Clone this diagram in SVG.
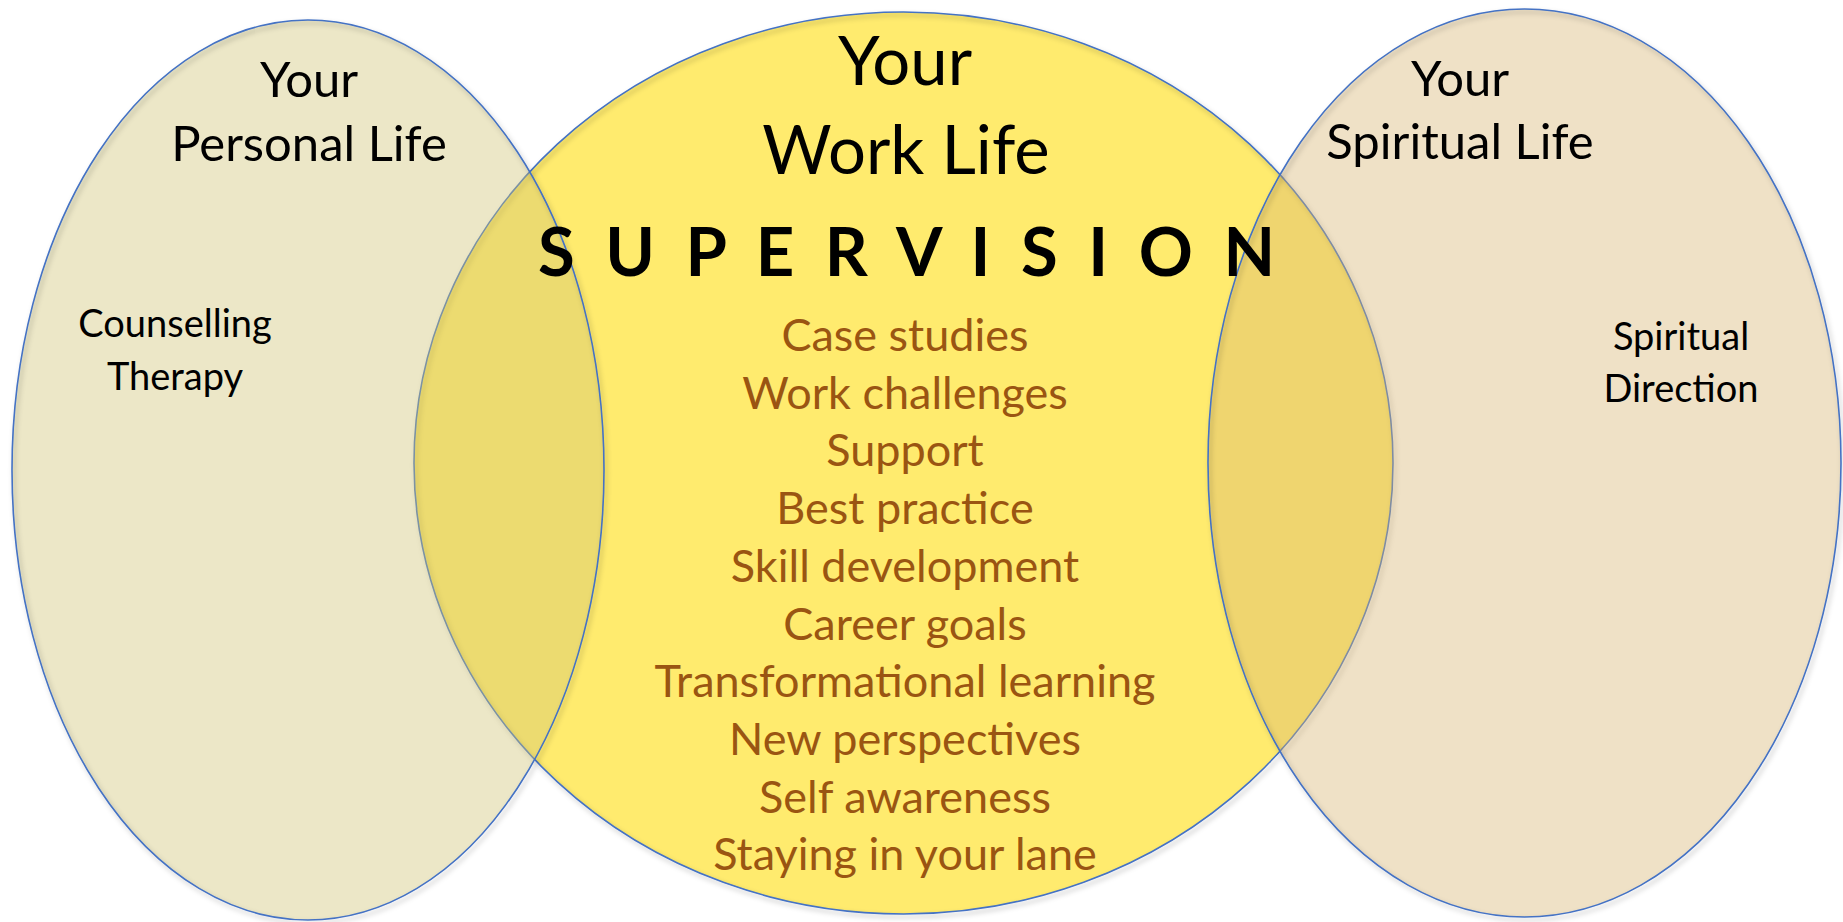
<svg xmlns="http://www.w3.org/2000/svg" width="1843" height="922" viewBox="0 0 1843 922">
  <style>
    .outline { fill: none; stroke: #4472C4; stroke-width: 1.6; }
    .title { font-family: Lato, "Open Sans", "Liberation Sans", sans-serif; fill: #000000; text-anchor: middle; }
    .side { font-size: 49px; }
    .main { font-size: 67px; }
    .label { font-family: Lato, "Open Sans", "Liberation Sans", sans-serif; font-size: 38px; fill: #000000; text-anchor: middle; }
    .item { font-family: Lato, "Open Sans", "Liberation Sans", sans-serif; font-size: 45px; fill: #9A5512; text-anchor: middle; }
    .big { font-family: Lato, "Open Sans", "Liberation Sans", sans-serif; font-size: 67px; font-weight: bold; fill: #000000; }
  </style>
  <defs>
    <filter id="shadow" x="-5%" y="-5%" width="110%" height="110%">
      <feDropShadow dx="2" dy="3" stdDeviation="2.5" flood-color="#000000" flood-opacity="0.3"/>
    </filter>
  </defs>
  <rect width="1843" height="922" fill="#FFFFFF"/>

  <g id="work-life">
    <ellipse cx="903.5" cy="463" rx="489.5" ry="451" fill="#FFEB6E"/>
    <ellipse class="outline" cx="903.5" cy="463" rx="489.5" ry="451" filter="url(#shadow)"/>
  </g>

  <g id="personal-life">
    <ellipse cx="308" cy="470" rx="296" ry="450" fill="#CFC274" fill-opacity="0.4"/>
    <ellipse class="outline" cx="308" cy="470" rx="296" ry="450" filter="url(#shadow)"/>
  </g>

  <g id="spiritual-life">
    <ellipse cx="1524.5" cy="463" rx="316.5" ry="454" fill="#D7B470" fill-opacity="0.4"/>
    <ellipse class="outline" cx="1524.5" cy="463" rx="316.5" ry="454" filter="url(#shadow)"/>
  </g>

  <g id="connectors"></g>

  <g id="personal-text">
    <text class="title side" x="309" y="97">Your</text>
    <text class="title side" x="309" y="161">Personal Life</text>
    <text class="label" x="175" y="337">Counselling</text>
    <text class="label" x="175" y="390">Therapy</text>
  </g>

  <g id="work-text">
    <text class="title main" x="905" y="85">Your</text>
    <text class="title main" x="906" y="174">Work Life</text>
    <text class="big" x="538" y="276" textLength="737" lengthAdjust="spacing">S U P E R V I S I O N</text>
    <text class="item" x="905" y="351">Case studies</text>
    <text class="item" x="905" y="408.7">Work challenges</text>
    <text class="item" x="905" y="466.4">Support</text>
    <text class="item" x="905" y="524.1">Best practice</text>
    <text class="item" x="905" y="581.8">Skill development</text>
    <text class="item" x="905" y="639.5">Career goals</text>
    <text class="item" x="905" y="697.2">Transformational learning</text>
    <text class="item" x="905" y="754.9">New perspectives</text>
    <text class="item" x="905" y="812.6">Self awareness</text>
    <text class="item" x="905" y="870.3">Staying in your lane</text>
  </g>

  <g id="spiritual-text">
    <text class="title side" x="1460" y="96">Your</text>
    <text class="title side" x="1460" y="159">Spiritual Life</text>
    <text class="label" x="1681" y="350">Spiritual</text>
    <text class="label" x="1681" y="402">Direction</text>
  </g>
</svg>
